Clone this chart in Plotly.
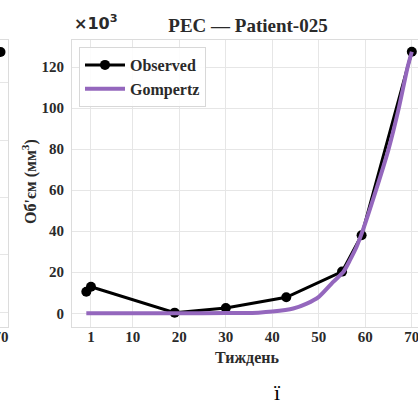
import plotly.graph_objects as go

# Observed tumour volume (x10^3 mm^3) by week
obs_week = [0, 1, 19, 30, 43, 55, 59.2, 70]
obs_vol = [10.5, 12.9, 0.3, 2.6, 7.8, 20.3, 38.0, 127.5]

# Gompertz fit, sampled along the fitted curve
fit_week = [0, 10, 20, 30, 37, 40, 44.5, 47.4, 50, 53.1, 55.3, 56.7, 58.1, 59.4, 62.3, 65.0, 67.2, 69.1, 70]
fit_vol = [0, 0, 0, 0.1, 0.3, 0.8, 2.3, 4.7, 8.0, 15.3, 20.2, 25.9, 32.3, 40.0, 60.0, 80.0, 100.0, 120.0, 127.5]

x_ticks = [1, 10, 20, 30, 40, 50, 60, 70]
y_ticks = [0, 20, 40, 60, 80, 100, 120]

# Edge of the neighbouring panel (last observation only)
prev_week = [69.9]
prev_vol = [4.54]

W, H = 418, 404
SERIF = "Liberation Serif, Times New Roman, serif"
TXT = "#2a2a2a"
GRID = "#e6e6e6"
FRAME = "#dcdcdc"


def px(x):
    return x / W


def py(y):
    return 1 - y / H


ydom = [py(327), py(40)]

fig = go.Figure()

fig.add_trace(go.Scatter(
    x=obs_week, y=obs_vol, mode="lines+markers", name="Observed",
    line=dict(color="black", width=3), marker=dict(color="black", size=10),
    xaxis="x", yaxis="y",
))
fig.add_trace(go.Scatter(
    x=fit_week, y=fit_vol, mode="lines", name="Gompertz",
    line=dict(color="#9467bd", width=4, shape="spline", smoothing=0.6),
    xaxis="x", yaxis="y",
))
fig.add_trace(go.Scatter(
    x=prev_week, y=prev_vol, mode="markers", showlegend=False,
    marker=dict(color="black", size=10), xaxis="x2", yaxis="y2",
))

tickfont = dict(family=SERIF, size=15, color=TXT, weight="bold")

fig.update_layout(
    width=W, height=H,
    margin=dict(l=0, r=0, t=0, b=0, autoexpand=False),
    paper_bgcolor="white", plot_bgcolor="white",
    showlegend=True,
    legend=dict(
        x=px(79), y=py(47), xanchor="left", yanchor="top",
        bgcolor="rgba(255,255,255,0.85)", bordercolor="#d8d8d8", borderwidth=1,
        font=dict(family=SERIF, size=16, color=TXT, weight="bold"),
        tracegroupgap=2, itemwidth=40, traceorder="normal",
    ),
    xaxis=dict(
        domain=[px(72), 1], range=[-3.08, 71.33],
        tickvals=x_ticks, ticks="", tickfont=tickfont,
        showgrid=True, gridcolor=GRID, gridwidth=1, zeroline=False,
        showline=True, linecolor=FRAME, linewidth=1, mirror=True,
        ticklabelstandoff=-4, ticklabeloverflow="allow", automargin=False,
    ),
    yaxis=dict(
        domain=ydom, range=[-6.7, 133.2],
        tickvals=y_ticks, ticks="", tickfont=tickfont,
        showgrid=True, gridcolor=GRID, gridwidth=1, zeroline=False,
        showline=True, linecolor=FRAME, linewidth=1,
        ticklabelstandoff=4, automargin=False,
    ),
    xaxis2=dict(
        domain=[0, px(8)], range=[69.75, 72],
        tickvals=[70], ticks="", tickfont=tickfont,
        showgrid=False, zeroline=False,
        showline=True, linecolor=FRAME, linewidth=1, mirror=True,
        anchor="y2", ticklabelstandoff=-4, ticklabeloverflow="allow", automargin=False,
    ),
    yaxis2=dict(
        domain=ydom, range=[-0.262, 4.75], side="right",
        tickvals=[0, 1, 2, 3, 4], showticklabels=False, ticks="",
        showgrid=True, gridcolor=GRID, gridwidth=1, zeroline=False,
        showline=True, linecolor=FRAME, linewidth=1,
        anchor="x2", automargin=False,
    ),
    title=dict(
        text="PEC — Patient-025", x=px(248), y=py(25), xanchor="center", yanchor="middle",
        font=dict(family=SERIF, size=19, color=TXT, weight="bold"),
    ),
    annotations=[
        dict(text="×10<sup>3</sup>", x=px(72), y=py(22), xref="paper", yref="paper",
             xanchor="left", yanchor="middle", showarrow=False,
             font=dict(family="DejaVu Sans", size=16, color=TXT, weight="bold")),
        dict(text="Тиждень", x=px(247), y=py(357), xref="paper", yref="paper",
             xanchor="center", yanchor="middle", showarrow=False,
             font=dict(family=SERIF, size=16, color=TXT, weight="bold")),
        dict(text="Об'єм (мм<sup>3</sup>)", x=px(30), y=py(182), xref="paper", yref="paper",
             xanchor="center", yanchor="middle", showarrow=False, textangle=-90,
             font=dict(family=SERIF, size=16, color=TXT, weight="bold")),
        dict(text="ї", x=px(277), y=py(392), xref="paper", yref="paper",
             xanchor="center", yanchor="middle", showarrow=False,
             font=dict(family=SERIF, size=22, color="black")),
    ],
)

fig.write_html("out.html")
